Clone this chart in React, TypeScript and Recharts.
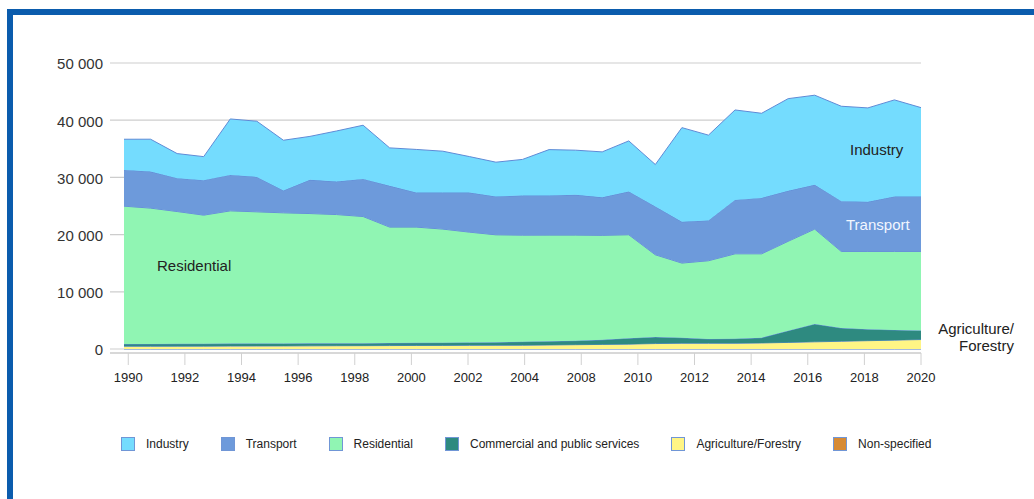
import React from "react";
import {
  AreaChart,
  Area,
  XAxis,
  YAxis,
  CartesianGrid,
} from "recharts";

const YEARS = [
  1990, 1991, 1992, 1993, 1994, 1995, 1996, 1997, 1998, 1999, 2000, 2001, 2002,
  2003, 2004, 2005, 2006, 2007, 2008, 2009, 2010, 2011, 2012, 2013, 2014, 2015,
  2016, 2017, 2018, 2019, 2020,
];

const industry = [
  5360, 5660, 4300, 4120, 9780, 9730, 8800, 7600, 8850, 9380, 6640, 7540, 7230,
  6290, 6010, 6320, 8030, 7810, 7950, 8850, 7340, 16470, 14920, 15720, 14790,
  16120, 15670, 16590, 16420, 16890, 15540,
];
const transport = [
  6340, 6390, 5830, 6110, 6290, 6110, 3890, 5890, 5760, 6580, 7210, 6040, 6390,
  6920, 6690, 6920, 6920, 7040, 6640, 7560, 8440, 7210, 7040, 9430, 9780, 8820,
  7740, 8800, 8680, 9610, 9610,
];
const residential = [
  24100, 23740, 23130, 22480, 23210, 23020, 22830, 22690, 22500, 22140, 20260,
  20230, 19850, 19290, 18770, 18630, 18550, 18460, 18270, 18080, 14370, 13050,
  13680, 14840, 14670, 15630, 16590, 13380, 13590, 13710, 13800,
];
const commercial = [
  390, 410, 415, 420, 430, 440, 445, 440, 435, 440, 450, 460, 480, 500, 540, 615,
  660, 700, 800, 1040, 1150, 970, 750, 800, 920, 2050, 3120, 2320, 2010, 1790,
  1600,
];
const agriculture = [
  480, 480, 490, 500, 510, 520, 530, 550, 570, 580, 600, 620, 630, 640, 650, 660,
  700, 750, 800, 850, 950, 1000, 1000, 1000, 1050, 1150, 1250, 1350, 1450, 1550,
  1650,
];
const nonSpecified = [
  0, 0, 0, 0, 0, 0, 0, 0, 0, 0, 0, 0, 0, 0, 0, 0, 0, 0, 0, 0, 0, 0, 0, 0, 0, 0,
  0, 0, 0, 0, 0,
];

// labels as printed under the axis (2006 is missing in the source)
const X_TICK_LABELS = [
  "1990", "1992", "1994", "1996", "1998", "2000", "2002", "2004", "2008",
  "2010", "2012", "2014", "2016", "2018", "2020",
];
const Y_TICKS = [0, 10000, 20000, 30000, 40000, 50000];
const Y_TICK_LABELS = ["0", "10 000", "20 000", "30 000", "40 000", "50 000"];

// bottom-to-top stacking order
const SERIES = [
  { key: "nonSpecified", name: "Non-specified", color: "#d68a35" },
  { key: "agriculture", name: "Agriculture/Forestry", color: "#fff585" },
  { key: "commercial", name: "Commercial and public services", color: "#2e8a80" },
  { key: "residential", name: "Residential", color: "#90f5b3" },
  { key: "transport", name: "Transport", color: "#6d9adb" },
  { key: "industry", name: "Industry", color: "#74dcfe" },
];

const data = YEARS.map((year, i) => ({
  year,
  industry: industry[i],
  transport: transport[i],
  residential: residential[i],
  commercial: commercial[i],
  agriculture: agriculture[i],
  nonSpecified: nonSpecified[i],
}));

// ticks are spread evenly, starting slightly right of the first data point
const TICK_START = 1990.16;
const xTicks = X_TICK_LABELS.map(
  (_, i) => TICK_START + (i * (2020 - TICK_START)) / (X_TICK_LABELS.length - 1)
);

const FONT = "'Liberation Sans', Arial, Helvetica, sans-serif";
const STROKE = "#5f8ad6";

export default function App() {
  const legendItems = [...SERIES].reverse();
  return (
    <div
      style={{
        position: "absolute",
        left: 0,
        top: 0,
        width: 1034,
        height: 499,
        overflow: "hidden",
        background: "#fff",
        fontFamily: FONT,
      }}
    >
      <div
        style={{
          position: "absolute",
          left: 7,
          top: 9,
          width: 1200,
          height: 700,
          borderLeft: "6px solid #0b5cad",
          borderTop: "6px solid #0b5cad",
        }}
      />
      <div style={{ position: "absolute", left: 0, top: 0 }}>
        <AreaChart
          width={1034}
          height={499}
          data={data}
          margin={{ top: 63, right: 113, left: 56, bottom: 106 }}
        >
          {SERIES.map((s) => (
            <Area
              key={s.key}
              type="linear"
              dataKey={s.key}
              name={s.name}
              stackId="1"
              stroke={STROKE}
              strokeWidth={1}
              fill={s.color}
              fillOpacity={1}
              isAnimationActive={false}
            />
          ))}
          <CartesianGrid
            vertical={false}
            stroke="#c4c4c4"
            strokeOpacity={0.85}
            strokeWidth={1.2}
          />
          <XAxis
            dataKey="year"
            type="number"
            domain={[1990, 2020]}
            padding={{ left: 14, right: 0 }}
            ticks={xTicks}
            interval={0}
            tickFormatter={(v: number, i: number) =>
              X_TICK_LABELS[i] ?? X_TICK_LABELS[xTicks.indexOf(v)]
            }
            height={40}
            tickSize={12}
            tickMargin={8}
            axisLine={{ stroke: "#d8d8d8", strokeWidth: 2 }}
            tickLine={{ stroke: "#d0d0d0" }}
            tick={{ fontSize: 13, fill: "#222", fontFamily: FONT }}
          />
          <YAxis
            type="number"
            domain={[-700, 50000]}
            allowDataOverflow
            ticks={Y_TICKS}
            interval={0}
            tickFormatter={(v: number) => Y_TICK_LABELS[Y_TICKS.indexOf(v)]}
            width={54}
            axisLine={false}
            tickLine={false}
            tickMargin={1}
            tick={{ fontSize: 15, fill: "#333", fontFamily: FONT, dy: 1 }}
          />
        </AreaChart>
      </div>

      <div style={{ position: "absolute", left: 850, top: 141, fontSize: 15, color: "#222" }}>
        Industry
      </div>
      <div style={{ position: "absolute", left: 846, top: 216, fontSize: 15, color: "#f2f6ff" }}>
        Transport
      </div>
      <div style={{ position: "absolute", left: 157, top: 257, fontSize: 15, color: "#222" }}>
        Residential
      </div>
      <div
        style={{
          position: "absolute",
          right: 1034 - 1014,
          top: 320,
          fontSize: 15,
          lineHeight: "17px",
          color: "#222",
          textAlign: "right",
          whiteSpace: "nowrap",
        }}
      >
        Agriculture/
        <br />
        Forestry
      </div>

      <div
        style={{
          position: "absolute",
          left: 121,
          top: 437,
          display: "flex",
          alignItems: "center",
          gap: 32,
          fontSize: 12,
          color: "#222",
          whiteSpace: "nowrap",
        }}
      >
        {legendItems.map((s) => (
          <div key={s.key} style={{ display: "flex", alignItems: "center" }}>
            <span
              style={{
                display: "inline-block",
                width: 12,
                height: 12,
                background: s.color,
                border: "1px solid #7096d6",
                marginRight: 11,
              }}
            />
            <span>{s.name}</span>
          </div>
        ))}
      </div>
    </div>
  );
}
